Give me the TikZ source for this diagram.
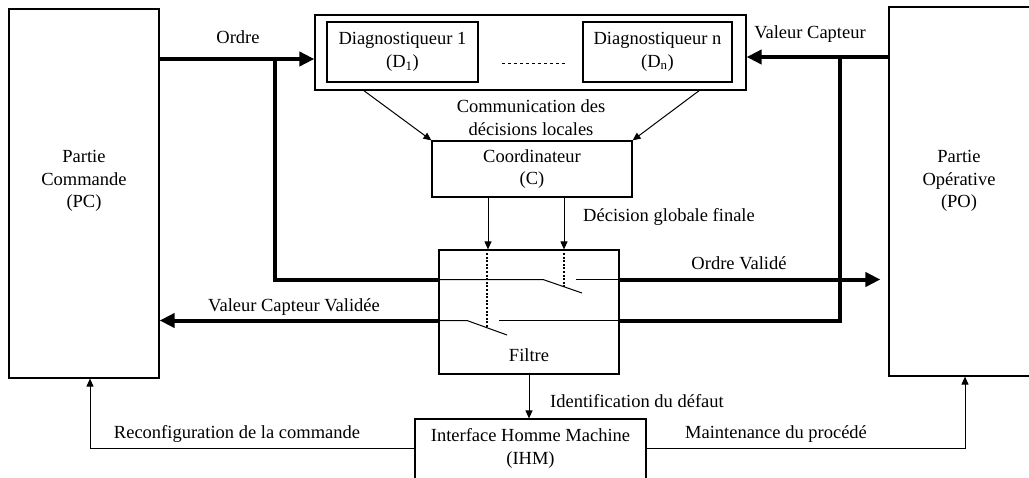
\documentclass[tikz,border=0pt]{standalone}
\usepackage{fontspec}
\setmainfont{Liberation Serif}
\usetikzlibrary{arrows.meta}

\begin{document}
\begin{tikzpicture}[x=1pt, y=-1pt,
    font=\fontsize{18.5}{22.5}\selectfont,
    blk/.style={draw, rectangle, line width=1.2pt, inner sep=0pt, align=center},
    lbl/.style={inner sep=0pt, align=center},
    bus/.style={line width=4pt},
    busarrow/.style={line width=4pt, -{Triangle[length=15pt,width=14pt]}},
    wire/.style={line width=1pt},
    sig/.style={line width=1pt, -{Triangle[length=8pt,width=7pt]}},
    ctrl/.style={line width=2pt, dash pattern=on 2pt off 1.6pt}]
    \useasboundingbox (0,0) rectangle (1029,477);

    \node[blk, minimum width=150, minimum height=369] (pc) at (84,193.5) {};
    \node[lbl] (pctxt) at (84,181) {Partie\\Commande\\(PC)};
    \node[blk, minimum width=191, minimum height=369] (po) at (984.5,191.5) {};
    \node[lbl] (potxt) at (959,181) {Partie\\Opérative\\(PO)};

    \node[blk, minimum width=431, minimum height=75] (diag) at (530.5,52.5) {};
    \node[blk, minimum width=151, minimum height=60] (d1) at (402.5,52) {Diagnostiqueur 1\\(D\textsubscript{1})};
    \node[blk, minimum width=149, minimum height=60] (dn) at (657.5,52) {Diagnostiqueur n\\(D\textsubscript{n})};
    \node[blk, minimum width=200, minimum height=56] (coord) at (532,169) {Coordinateur\\(C)};
    \node[blk, minimum width=180, minimum height=124] (filtre) at (529,312) {};
    \node[lbl] (filtretxt) at (529,355) {Filtre};
    \node[blk, minimum width=231, minimum height=71] (ihm) at (530.5,454.5) {};
    \node[lbl] (ihmtxt) at (530.5,448.5) {Interface Homme Machine\\(IHM)};

    \node[lbl] (ordre) at (238,37) {Ordre};
    \node[lbl] (capteur) at (810,34) {Valeur Capteur};
    \node[lbl] (comm) at (531,117.5) {Communication des\\décisions locales};
    \node[lbl] (decision) at (669,217) {Décision globale finale};
    \node[lbl] (ordrevalide) at (739,263) {Ordre Validé};
    \node[lbl] (capteurvalide) at (294,307) {Valeur Capteur Validée};
    \node[lbl] (ident) at (637,401) {Identification du défaut};
    \node[lbl] (reconf) at (237,434) {Reconfiguration de la commande};
    \node[lbl] (maint) at (776,434) {Maintenance du procédé};

    \coordinate (yordre) at (0,59);
    \coordinate (ycapteur) at (0,57);
    \coordinate (yhaut) at (0,279.5);
    \coordinate (ybas) at (0,320.5);
    \coordinate (yretour) at (0,448);
    \coordinate (tapL) at (275,59);
    \coordinate (tapR) at (840,57);
    \coordinate (sw1) at (487,327);
    \coordinate (sw2) at (564,288);
    \coordinate (dl) at (363,90);
    \coordinate (dr) at (700,90);
    \coordinate (fbL) at (90,0);
    \coordinate (fbR) at (965,0);

    \draw[dashed, line width=1pt] (502,63) -- (566,63);

    \draw[busarrow] (pc.east |- yordre) -- (diag.west |- yordre);
    \draw[bus] (tapL) |- (filtre.west |- yhaut);
    \draw[busarrow, shorten >=8pt] (filtre.east |- yhaut) -- (po.west |- yhaut);
    \draw[busarrow] (po.west |- ycapteur) -- (diag.east |- ycapteur);
    \draw[bus] (filtre.east |- ybas) -| (tapR);
    \draw[busarrow] (filtre.west |- ybas) -- (pc.east |- ybas);

    \draw[wire] (filtre.west |- yhaut) -- (543,279.5) -- (582,293);
    \draw[wire] (576,279.5) -- (filtre.east |- yhaut);
    \draw[wire] (filtre.west |- ybas) -- (467,320.5) -- (507,335);
    \draw[wire] (499,320.5) -- (filtre.east |- ybas);
    \draw[ctrl] (filtre.north -| sw1) -- (sw1);
    \draw[ctrl] (filtre.north -| sw2) -- (sw2);

    \draw[sig] (dl) -- (coord.north west);
    \draw[sig] (dr) -- (coord.north east);
    \draw[sig] (coord.south -| 488,0) -- (filtre.north -| 488,0);
    \draw[sig] (coord.south -| sw2) -- (filtre.north -| sw2);
    \draw[sig] (filtre.south) -- (filtre.south |- ihm.north);
    \draw[sig] (ihm.west |- yretour) -| (pc.south -| fbL);
    \draw[sig] (ihm.east |- yretour) -| (po.south -| fbR);
\end{tikzpicture}
\end{document}
